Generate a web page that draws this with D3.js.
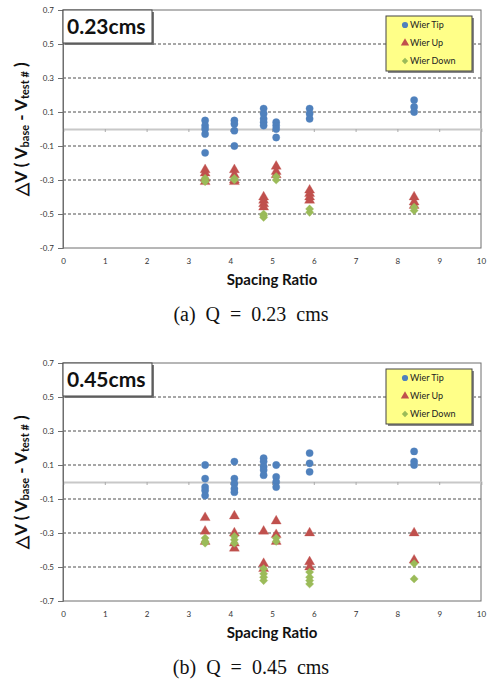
<!DOCTYPE html>
<html>
<head>
<meta charset="utf-8">
<script src="https://cdn.jsdelivr.net/npm/d3@7"></script>
<style>
  body { margin: 0; background: #fff; }
  svg { display: block; }
  .tick text { font-family: Lato, 'Open Sans', sans-serif; font-size: 8px; fill: #333; }
</style>
</head>
<body>
<div id="chart"></div>
<script>
// spacing ratio of each measured group
const spacing = [3.4, 4.1, 4.8, 5.1, 5.9, 8.4];
const xTicks = [0, 1, 2, 3, 4, 5, 6, 7, 8, 9, 10];
const yTicks = [0.7, 0.5, 0.3, 0.1, -0.1, -0.3, -0.5, -0.7];
const gridValues = [0.5, 0.3, 0.1, -0.1, -0.3, -0.5];
const seriesNames = ['Wier Tip', 'Wier Up', 'Wier Down'];

// Q = 0.23 cms (one array per spacing group)
const tip023 = [[0.05, 0.02, 0.0, -0.03, -0.14], [0.05, 0.03, -0.01, -0.10], [0.12, 0.09, 0.06, 0.04, 0.02], [0.04, 0.02, 0.0, -0.05], [0.12, 0.09, 0.06], [0.17, 0.13, 0.10]];
const up023 = [[-0.24, -0.26, -0.29, -0.31], [-0.24, -0.27, -0.30, -0.31], [-0.40, -0.42, -0.44, -0.46], [-0.22, -0.25, -0.27], [-0.36, -0.38, -0.40, -0.42], [-0.40, -0.43, -0.45]];
const down023 = [[-0.29, -0.30, -0.31], [-0.29, -0.30], [-0.50, -0.51, -0.52], [-0.28, -0.30], [-0.47, -0.49], [-0.46, -0.48]];

// Q = 0.45 cms
const tip045 = [[0.10, 0.02, -0.03, -0.05, -0.08], [0.12, 0.02, -0.01, -0.04, -0.06], [0.14, 0.12, 0.09, 0.07, 0.04], [0.10, 0.03, 0.0, -0.03], [0.17, 0.11, 0.06], [0.18, 0.12, 0.10]];
const up045 = [[-0.21, -0.29, -0.35], [-0.20, -0.30, -0.36, -0.39], [-0.29, -0.48, -0.51], [-0.23, -0.31, -0.35], [-0.30, -0.47, -0.50], [-0.30, -0.46]];
const down045 = [[-0.33, -0.35, -0.36], [-0.32, -0.34, -0.36], [-0.51, -0.54, -0.56, -0.58], [-0.33, -0.35], [-0.53, -0.56, -0.58, -0.60], [-0.48, -0.57]];

const colors = ['#4f81bd', '#c0504d', '#9bbb59'];
const width = 490, height = 679;
const plotLeft = 63, plotRight = 481, plotH = 238;

const svg = d3.select('#chart').append('svg')
  .attr('width', width)
  .attr('height', height);

const x = d3.scaleLinear().domain([0, 10]).range([plotLeft, plotRight]);
const y = d3.scaleLinear().domain([-0.7, 0.7]).range([plotH, 0]);

const flatten = groups => groups.flatMap((vals, i) => vals.map(v => ({ x: spacing[i], v })));

const symbols = [
  d3.symbol().type(d3.symbolCircle).size(42),
  d3.symbol().type(d3.symbolTriangle).size(44),
  d3.symbol().type(d3.symbolSquare).size(34)
];
const legendSymbols = [
  d3.symbol().type(d3.symbolCircle).size(30),
  d3.symbol().type(d3.symbolTriangle).size(30),
  d3.symbol().type(d3.symbolSquare).size(20)
];

function drawPanel(top, label, caption, series) {
  const g = svg.append('g').attr('transform', `translate(0, ${top})`);

  // grid
  g.selectAll('.grid')
    .data(gridValues)
    .enter()
    .append('line')
    .attr('x1', plotLeft)
    .attr('x2', plotRight)
    .attr('y1', d => y(d))
    .attr('y2', d => y(d))
    .attr('stroke', '#222')
    .attr('stroke-width', 0.8)
    .attr('stroke-dasharray', '3,2');

  // plot frame
  g.append('rect')
    .attr('x', plotLeft)
    .attr('y', 0)
    .attr('width', plotRight - plotLeft)
    .attr('height', plotH)
    .attr('fill', 'none')
    .attr('stroke', '#6e6e6e')
    .attr('stroke-width', 1);

  // zero line with tick marks
  const zeroAxis = g.append('g')
    .attr('transform', `translate(0, ${y(0)})`)
    .call(d3.axisBottom(x).tickValues(xTicks).tickSize(3).tickFormat(''));
  zeroAxis.select('.domain').attr('stroke', '#c8c8c8').attr('stroke-width', 2);
  zeroAxis.selectAll('.tick line').attr('stroke', '#aaa');

  // y axis
  const yAxis = g.append('g')
    .attr('transform', `translate(${plotLeft}, 0)`)
    .call(d3.axisLeft(y).tickValues(yTicks).tickSize(5).tickPadding(4).tickFormat(d => d.toFixed(1)));
  yAxis.select('.domain').attr('stroke', '#6e6e6e');
  yAxis.selectAll('.tick line').attr('stroke', '#6e6e6e');

  // x labels at bottom
  const xAxis = g.append('g')
    .attr('transform', `translate(0, ${plotH})`)
    .call(d3.axisBottom(x).tickValues(xTicks).tickSize(0).tickPadding(10));
  xAxis.select('.domain').remove();

  // points
  series.forEach((s, i) => {
    g.selectAll(`.s${i}`)
      .data(flatten(s))
      .enter()
      .append('path')
      .attr('d', symbols[i])
      .attr('transform', d => `translate(${x(d.x)}, ${y(d.v)})${i === 2 ? ' rotate(45)' : ''}`)
      .attr('fill', colors[i])
      .attr('stroke', colors[i])
      .attr('stroke-opacity', 0.5)
      .attr('stroke-width', 0.6);
  });

  // title box
  g.append('rect')
    .attr('x', plotLeft + 2).attr('y', 2)
    .attr('width', 89).attr('height', 33)
    .attr('fill', '#777');
  g.append('rect')
    .attr('x', plotLeft).attr('y', 0)
    .attr('width', 89).attr('height', 33)
    .attr('fill', '#fff')
    .attr('stroke', '#444');
  g.append('text')
    .attr('x', plotLeft + 4)
    .attr('y', 24)
    .attr('font-family', 'Lato, sans-serif')
    .attr('font-weight', 'bold')
    .attr('font-size', 21)
    .attr('fill', '#111')
    .text(label);

  // legend
  const lg = g.append('g').attr('transform', 'translate(386, 6)');
  lg.append('rect').attr('x', 2).attr('y', 2).attr('width', 86).attr('height', 55).attr('fill', '#888');
  lg.append('rect').attr('width', 86).attr('height', 55).attr('fill', '#ffff88').attr('stroke', '#444');
  seriesNames.forEach((name, i) => {
    const ry = 9 + i * 18;
    lg.append('path')
      .attr('d', legendSymbols[i])
      .attr('transform', `translate(19, ${ry})${i === 2 ? ' rotate(45)' : ''}`)
      .attr('fill', colors[i]);
    lg.append('text')
      .attr('x', 24)
      .attr('y', ry + 3)
      .attr('font-family', 'Lato, sans-serif')
      .attr('font-size', 9)
      .attr('fill', '#222')
      .text(name);
  });

  // y title
  const yt = g.append('text')
    .attr('transform', `translate(27, ${y(0)}) rotate(-90)`)
    .attr('text-anchor', 'middle')
    .attr('font-family', 'Lato, sans-serif')
    .attr('font-weight', 'bold')
    .attr('font-size', 17)
    .attr('fill', '#111');
  yt.append('tspan').text('\u25B3V ( V');
  yt.append('tspan').attr('font-size', 11).attr('dy', 2).text('base');
  yt.append('tspan').attr('dy', -2).text(' - V');
  yt.append('tspan').attr('font-size', 11).attr('dy', 2).text('test #');
  yt.append('tspan').attr('dy', -2).text(' )');

  // x title
  g.append('text')
    .attr('x', 272)
    .attr('y', plotH + 37)
    .attr('text-anchor', 'middle')
    .attr('font-family', 'Lato, sans-serif')
    .attr('font-weight', 'bold')
    .attr('font-size', 15)
    .attr('fill', '#111')
    .text('Spacing Ratio');

  // caption
  g.append('text')
    .attr('x', 251)
    .attr('y', plotH + 73)
    .attr('text-anchor', 'middle')
    .attr('font-family', '"Liberation Serif", serif')
    .attr('font-size', 20)
    .attr('fill', '#111')
    .style('white-space', 'pre')
    .text(caption);
}

drawPanel(10, '0.23cms', '(a)  Q  =  0.23  cms', [tip023, up023, down023]);
drawPanel(363, '0.45cms', '(b)  Q  =  0.45  cms', [tip045, up045, down045]);
</script>
</body>
</html>
